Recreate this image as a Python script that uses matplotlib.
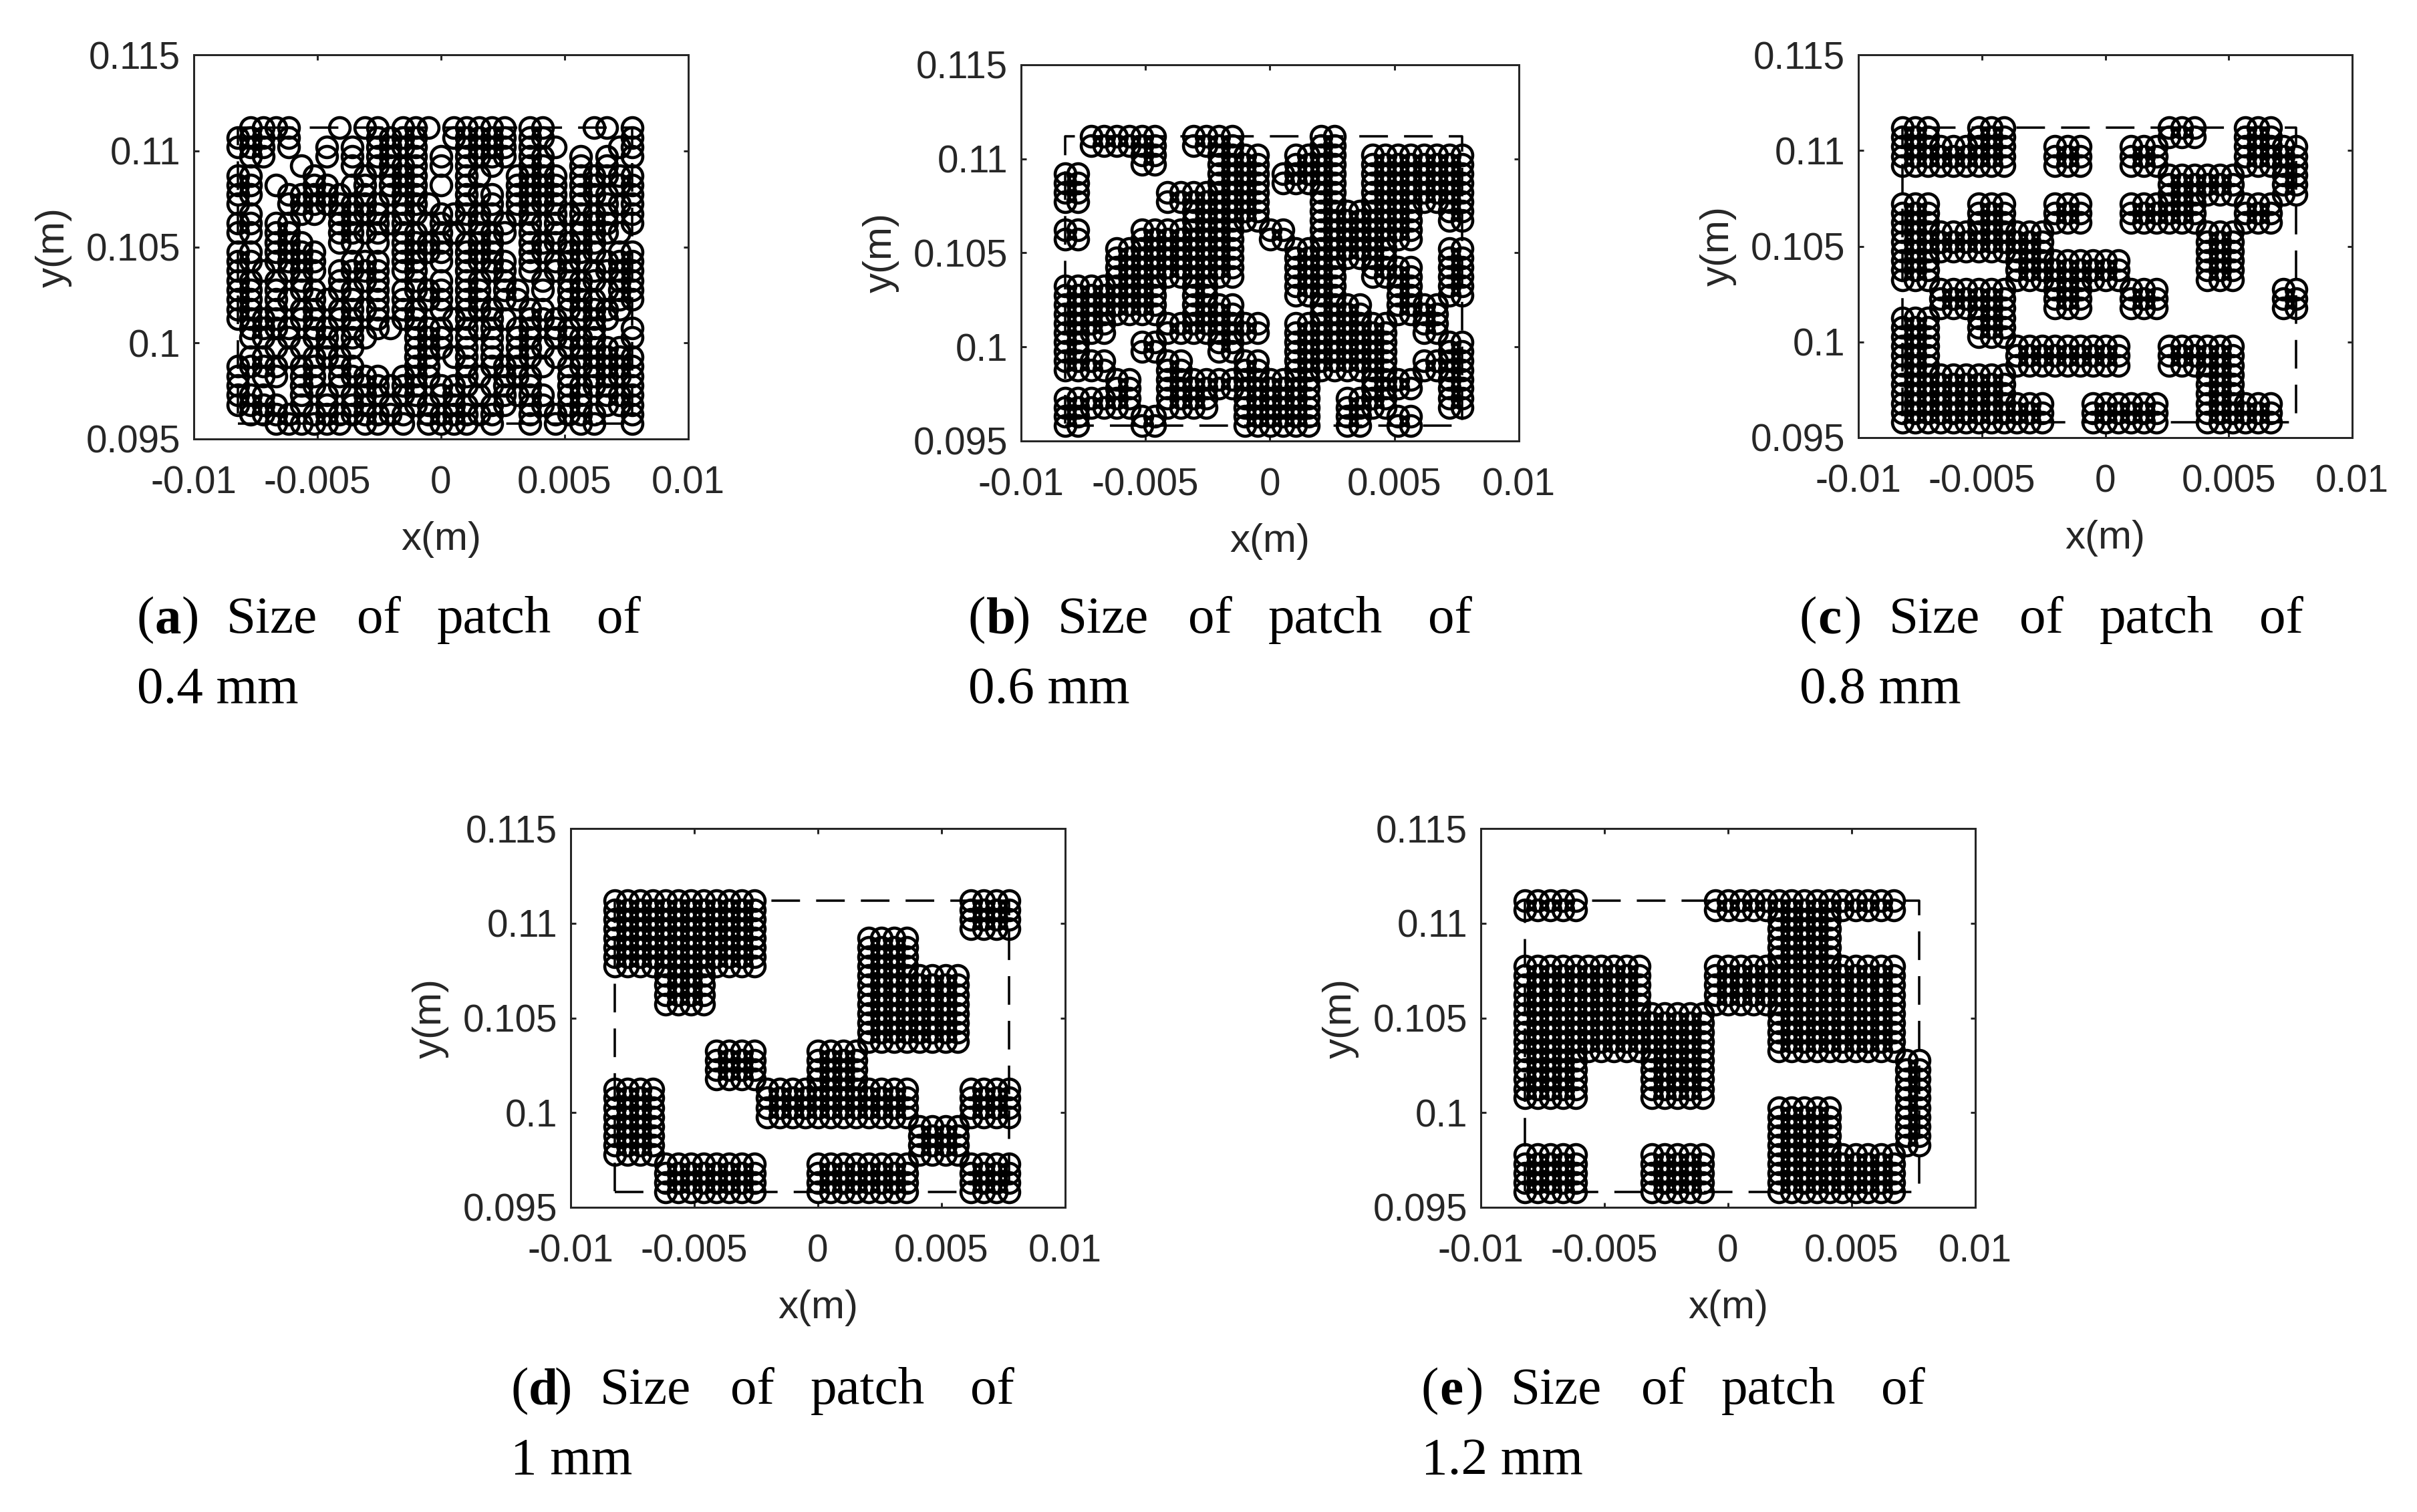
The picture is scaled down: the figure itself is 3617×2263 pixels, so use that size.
import matplotlib
matplotlib.use('Agg')
import matplotlib.pyplot as plt

W, H = 3617, 2263
DARK = '#262626'

# sampling lattice shared by all the panels (mm)
GRID_X = [-8.22, -7.71, -7.19, -6.68, -6.16, -5.65, -5.13, -4.62, -4.11, -3.59, -3.08,
          -2.56, -2.05, -1.53, -1.02, -0.51, 0.01, 0.52, 1.03, 1.55, 2.06, 2.58,
          3.09, 3.60, 4.12, 4.63, 5.15, 5.66, 6.18, 6.69, 7.21, 7.72]
GRID_Y = [111.20, 110.70, 110.21, 109.71, 109.21, 108.72, 108.22, 107.72, 107.23, 106.73,
          106.23, 105.74, 105.24, 104.74, 104.24, 103.75, 103.25, 102.75, 102.26, 101.76,
          101.26, 100.77, 100.27, 99.77, 99.28, 98.78, 98.28, 97.79, 97.29, 96.79, 96.30, 95.80]

# dashed outline of the patch (mm)
RECT_X = [-8.22, 7.72, 7.72, -8.22, -8.22]
RECT_Y = [95.80, 95.80, 111.20, 111.20, 95.80]

X_TICKS = [-0.01, -0.005, 0, 0.005, 0.01]
X_LABELS = ['-0.01', '-0.005', '0', '0.005', '0.01']
Y_TICKS = [0.095, 0.1, 0.105, 0.11, 0.115]
Y_LABELS = ['0.095', '0.1', '0.105', '0.11', '0.115']

# panel (a): occupied lattice columns, one list per lattice row
COLS_A = [
    [1, 2, 3, 4, 8, 10, 11, 13, 14, 15, 17, 18, 19, 20, 21, 23, 24, 28, 29, 31],
    [0, 1, 2, 4, 11, 12, 13, 14, 17, 18, 19, 20, 21, 23, 24, 31],
    [0, 1, 2, 4, 7, 9, 11, 12, 13, 14, 18, 19, 20, 21, 23, 25, 30, 31],
    [1, 2, 7, 9, 11, 12, 14, 16, 18, 19, 20, 21, 23, 24, 27, 29, 31],
    [5, 9, 11, 12, 13, 14, 16, 18, 20, 23, 24, 27, 29],
    [0, 1, 6, 10, 12, 13, 14, 18, 19, 22, 23, 24, 25, 27, 28, 29, 30, 31],
    [0, 1, 3, 6, 7, 9, 10, 12, 13, 14, 16, 18, 22, 23, 24, 25, 27, 28, 30, 31],
    [0, 1, 4, 5, 6, 7, 8, 10, 12, 13, 14, 18, 19, 20, 22, 23, 24, 25, 27, 28, 29, 31],
    [0, 4, 5, 6, 7, 8, 9, 10, 11, 13, 14, 15, 18, 20, 22, 23, 24, 25, 27, 29, 30, 31],
    [1, 5, 6, 8, 9, 10, 11, 13, 14, 16, 17, 18, 19, 20, 22, 23, 25, 26, 27, 28, 29, 31],
    [0, 1, 3, 4, 8, 9, 11, 12, 13, 15, 16, 18, 19, 21, 23, 24, 25, 27, 28, 29, 31],
    [0, 1, 3, 4, 8, 9, 10, 11, 13, 14, 16, 17, 19, 20, 21, 23, 25, 27, 28, 29, 30],
    [3, 4, 5, 8, 9, 11, 13, 14, 15, 16, 18, 19, 20, 23, 24, 25, 26, 27, 28],
    [0, 1, 3, 4, 5, 6, 13, 14, 15, 16, 18, 19, 20, 23, 24, 26, 27, 28, 30, 31],
    [0, 1, 3, 4, 5, 6, 9, 10, 11, 13, 14, 16, 18, 19, 20, 21, 23, 25, 26, 27, 29, 30, 31],
    [0, 2, 4, 5, 6, 8, 9, 10, 11, 13, 14, 18, 20, 21, 23, 25, 26, 28, 29, 30, 31],
    [0, 1, 3, 5, 8, 10, 11, 14, 16, 18, 19, 21, 24, 26, 27, 28, 30, 31],
    [0, 1, 3, 5, 6, 8, 9, 11, 13, 14, 15, 16, 18, 19, 21, 22, 24, 26, 27, 29, 30, 31],
    [0, 1, 3, 4, 6, 7, 9, 11, 13, 15, 16, 18, 19, 21, 22, 26, 27, 28, 30, 31],
    [0, 1, 3, 5, 6, 8, 9, 10, 11, 13, 14, 16, 18, 19, 20, 23, 24, 26, 27, 28, 29, 30],
    [0, 1, 2, 3, 5, 6, 8, 9, 11, 13, 14, 17, 18, 20, 21, 23, 24, 25, 27, 28, 29],
    [1, 2, 3, 4, 6, 7, 9, 11, 12, 14, 15, 16, 18, 19, 20, 22, 23, 25, 26, 28, 31],
    [1, 2, 4, 6, 7, 8, 9, 10, 14, 15, 16, 18, 20, 22, 23, 25, 26, 27, 28, 31],
    [3, 5, 7, 9, 14, 15, 16, 18, 20, 22, 23, 24, 26, 27, 28, 29, 30],
    [1, 2, 4, 6, 7, 8, 14, 15, 17, 18, 20, 22, 23, 25, 27, 28, 29, 30, 31],
    [0, 1, 2, 3, 5, 6, 8, 9, 14, 15, 18, 20, 21, 22, 24, 26, 27, 28, 29, 30, 31],
    [0, 2, 3, 5, 6, 8, 9, 10, 11, 13, 14, 15, 18, 19, 21, 22, 23, 26, 28, 29, 30, 31],
    [0, 5, 6, 8, 10, 11, 12, 13, 14, 16, 17, 18, 20, 21, 23, 26, 27, 28, 29, 31],
    [0, 1, 2, 5, 7, 9, 10, 11, 13, 14, 16, 17, 19, 21, 22, 23, 24, 26, 27, 29, 30, 31],
    [0, 1, 2, 3, 5, 7, 9, 10, 12, 14, 15, 17, 18, 20, 21, 23, 24, 26, 27, 29, 30, 31],
    [1, 2, 3, 4, 6, 7, 8, 9, 10, 11, 12, 13, 15, 16, 17, 18, 19, 20, 23, 25, 26, 27, 28, 31],
    [3, 4, 5, 6, 7, 8, 10, 11, 13, 15, 16, 17, 18, 20, 23, 25, 27, 28, 31],
]

# panels (b)-(e): (first row, last row, [(first col, last col), ...]) on the lattice
BLOCKS_B = [
    (0, 1, [(2, 7), (10, 13), (20, 21)]),
    (2, 3, [(6, 7), (12, 15), (18, 21), (24, 31)]),
    (4, 5, [(0, 1), (12, 15), (17, 21), (24, 31)]),
    (6, 7, [(0, 1), (8, 15), (20, 21), (24, 31)]),
    (8, 9, [(10, 15), (20, 27), (30, 31)]),
    (10, 11, [(0, 1), (6, 13), (16, 17), (20, 27)]),
    (12, 13, [(4, 13), (18, 25), (30, 31)]),
    (14, 15, [(4, 13), (18, 21), (24, 27), (30, 31)]),
    (16, 17, [(0, 7), (10, 11), (18, 21), (26, 27), (30, 31)]),
    (18, 19, [(0, 7), (10, 13), (20, 23), (26, 29)]),
    (20, 21, [(0, 3), (8, 15), (18, 25), (28, 29)]),
    (22, 23, [(0, 1), (6, 7), (12, 13), (18, 25), (30, 31)]),
    (24, 25, [(0, 3), (8, 9), (14, 15), (18, 25), (28, 31)]),
    (26, 27, [(4, 5), (8, 19), (24, 27), (30, 31)]),
    (28, 29, [(0, 5), (8, 11), (14, 19), (22, 25), (30, 31)]),
    (30, 31, [(0, 1), (6, 7), (14, 19), (22, 23), (26, 27)]),
]
BLOCKS_C = [
    (0, 1, [(0, 2), (6, 8), (21, 23), (27, 29)]),
    (2, 4, [(0, 8), (12, 14), (18, 20), (27, 31)]),
    (5, 7, [(21, 26), (30, 31)]),
    (8, 10, [(0, 2), (6, 8), (12, 14), (18, 23), (27, 29)]),
    (11, 13, [(0, 11), (24, 26)]),
    (14, 16, [(0, 2), (9, 17), (24, 26)]),
    (17, 19, [(3, 8), (12, 14), (18, 20), (30, 31)]),
    (20, 22, [(0, 2), (6, 8)]),
    (23, 25, [(0, 2), (9, 17), (21, 26)]),
    (26, 28, [(0, 8), (24, 26)]),
    (29, 31, [(0, 11), (15, 20), (24, 29)]),
]
BLOCKS_D = [
    (0, 3, [(0, 11), (28, 31)]),
    (4, 7, [(0, 11), (20, 23)]),
    (8, 11, [(4, 7), (20, 27)]),
    (12, 15, [(20, 27)]),
    (16, 19, [(8, 11), (16, 19)]),
    (20, 23, [(0, 3), (12, 23), (28, 31)]),
    (24, 27, [(0, 3), (24, 27)]),
    (28, 31, [(4, 11), (16, 23), (28, 31)]),
]
BLOCKS_E = [
    (0, 1, [(0, 4), (15, 29)]),
    (2, 6, [(20, 24)]),
    (7, 11, [(0, 9), (15, 29)]),
    (12, 16, [(0, 14), (20, 29)]),
    (17, 21, [(0, 4), (10, 14), (30, 31)]),
    (22, 26, [(20, 24), (30, 31)]),
    (27, 31, [(0, 4), (10, 14), (20, 29)]),
]

CAPTION_WORDS = ['Size', 'of', 'patch', 'of']
WORD_OFFSETS = [134, 329, 449, 688]   # px from the caption start


def blocks_to_points(blocks):
    """Turn block tables into x, y lists in metres."""
    xs, ys = [], []
    for r0, r1, spans in blocks:
        for r in range(r0, r1 + 1):
            for c0, c1 in spans:
                for c in range(c0, c1 + 1):
                    xs.append(GRID_X[c] / 1000)
                    ys.append(GRID_Y[r] / 1000)
    return xs, ys


def cols_to_points(rows):
    xs, ys = [], []
    for r, cols in enumerate(rows):
        for c in cols:
            xs.append(GRID_X[c] / 1000)
            ys.append(GRID_Y[r] / 1000)
    return xs, ys


def draw_panel(fig, box, xs, ys):
    """box is left, right, top, bottom in picture pixels."""
    l, r, t, b = box
    ax = fig.add_axes([l / W, 1 - b / H, (r - l) / W, (b - t) / H])
    ax.plot(xs, ys, 'o', ms=7.4, mew=1.12, mfc='none', color='k', clip_on=False)
    ax.plot([v / 1000 for v in RECT_X], [v / 1000 for v in RECT_Y], color='k', lw=0.85,
            dashes=(12.1, 6.8), dash_capstyle='butt', zorder=3)
    ax.set_xlim(-0.01, 0.01)
    ax.set_ylim(0.095, 0.115)
    ax.set_xticks(X_TICKS)
    ax.set_xticklabels(X_LABELS)
    ax.set_yticks(Y_TICKS)
    ax.set_yticklabels(Y_LABELS)
    ax.tick_params(axis='x', direction='in', top=True, length=1.8, width=0.72, color=DARK,
                   labelcolor=DARK, labelsize=13.6, pad=9.5)
    ax.tick_params(axis='y', direction='in', right=True, length=1.8, width=0.72, color=DARK,
                   labelcolor=DARK, labelsize=13.6, pad=4.8)
    for s in ax.spines.values():
        s.set_linewidth(0.72)
        s.set_color(DARK)
    ax.set_xlabel('x(m)', fontsize=14.4, color=DARK, labelpad=7)
    ax.set_ylabel('y(m)', fontsize=14.4, color=DARK, labelpad=5)
    return ax


def draw_caption(fig, x, base, letter, size_text):
    def put(px, py, s, **kw):
        fig.text(px / W, 1 - py / H, s, family='Liberation Serif', fontsize=19,
                 color='k', ha='left', va='baseline', **kw)
    put(x, base, '(')
    put(x + 27, base, letter, weight='bold')
    put(x + 66, base, ')')
    for word, off in zip(CAPTION_WORDS, WORD_OFFSETS):
        put(x + off, base, word)
    put(x, base + 105, size_text)


plt.rcParams['font.family'] = ['Liberation Sans', 'DejaVu Sans']

fig = plt.figure(figsize=(W / 300, H / 300), dpi=300)

draw_panel(fig, (290, 1030, 82, 657), *cols_to_points(COLS_A))
draw_panel(fig, (1528, 2273, 97, 660), *blocks_to_points(BLOCKS_B))
draw_panel(fig, (2781, 3520, 82, 655), *blocks_to_points(BLOCKS_C))
draw_panel(fig, (854, 1594, 1240, 1807), *blocks_to_points(BLOCKS_D))
draw_panel(fig, (2216, 2956, 1240, 1807), *blocks_to_points(BLOCKS_E))

draw_caption(fig, 205, 947, 'a', '0.4 mm')
draw_caption(fig, 1449, 947, 'b', '0.6 mm')
draw_caption(fig, 2693, 947, 'c', '0.8 mm')
draw_caption(fig, 764, 2101, 'd', '1 mm')
draw_caption(fig, 2127, 2101, 'e', '1.2 mm')

fig.savefig('out.png', dpi=300)
